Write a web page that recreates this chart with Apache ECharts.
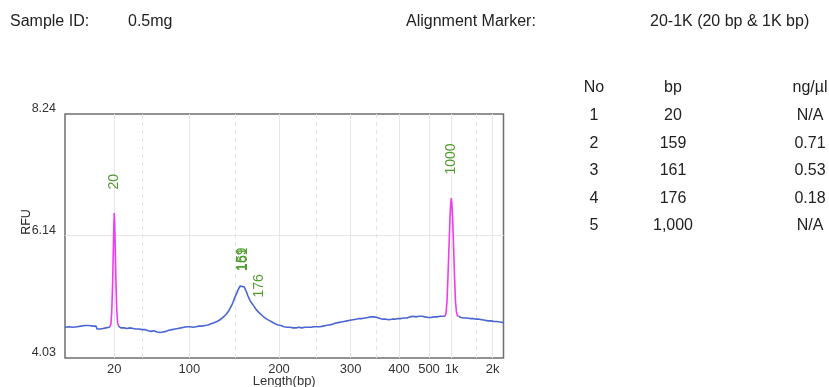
<!DOCTYPE html>
<html><head><meta charset="utf-8">
<script src="https://cdn.jsdelivr.net/npm/echarts@6/dist/echarts.min.js"></script>
<style>html,body{margin:0;padding:0;background:#fff}#c{width:829px;height:387px}</style>
</head><body><div id="c"></div>
<script>
// ---- header ----
const sampleIdLabel = 'Sample ID:';
const sampleId = '0.5mg';
const markerLabel = 'Alignment Marker:';
const alignmentMarker = '20-1K (20 bp & 1K bp)';

// ---- x axis calibration (scan index -> bp) ----
const ladderLabels = ['20', '100', '200', '300', '400', '500', '1k', '2k'];
const ladderScan = [493, 1243, 2140, 2857, 3340, 3640, 3867, 4277];
const minorBp = [50, 150, 250, 350, 1500];
const minorScan = [773, 1707, 2510, 3117, 4110];
const scanMax = 4385;

// ---- y axis ----
const rfuTicks = [4.03, 6.14, 8.24];

// ---- sample trace (blue); '-' = gap where marker peaks are drawn ----
const traceScan = [0,40,80,120,160,200,240,280,310,320,350,380,410,440,450,
  490,
  535,560,590,620,650,680,710,740,770,800,830,860,890,920,950,980,1010,1040,1070,1100,1130,1160,1190,1220,1250,1280,1310,1340,1370,1400,1430,1460,1490,1520,1550,1580,1610,1640,1670,1700,1730,1750,1770,1790,1810,1830,1850,1870,1890,1910,1930,1950,1980,2010,2040,2070,2100,2130,2160,2190,2220,2250,2280,2310,2340,2370,2400,2430,2460,2490,2520,2550,2580,2610,2640,2670,2700,2730,2760,2790,2820,2850,2880,2910,2940,2970,3000,3030,3060,3090,3120,3150,3180,3210,3240,3270,3300,3330,3360,3390,3420,3450,3480,3510,3540,3570,3600,3630,3660,3690,3720,3750,3780,3800,
  3860,
  3935,3960,3990,4020,4050,4080,4110,4140,4170,4200,4230,4260,4290,4320,4350,4385];
const traceRfu = [4.56,4.57,4.56,4.57,4.58,4.59,4.59,4.58,4.58,4.53,4.53,4.54,4.55,4.56,4.57,
  '-',
  4.58,4.55,4.55,4.54,4.55,4.54,4.53,4.53,4.52,4.52,4.50,4.49,4.50,4.48,4.47,4.48,4.49,4.51,4.52,4.53,4.54,4.55,4.56,4.57,4.57,4.56,4.57,4.58,4.58,4.59,4.60,4.62,4.64,4.66,4.69,4.73,4.78,4.85,4.95,5.08,5.20,5.27,5.30,5.26,5.19,5.10,5.02,4.97,4.92,4.87,4.83,4.80,4.75,4.71,4.68,4.65,4.62,4.60,4.59,4.57,4.56,4.56,4.55,4.55,4.56,4.55,4.56,4.56,4.56,4.57,4.57,4.57,4.58,4.59,4.60,4.61,4.63,4.64,4.65,4.66,4.67,4.68,4.69,4.70,4.71,4.71,4.72,4.73,4.74,4.74,4.73,4.71,4.70,4.70,4.69,4.70,4.70,4.71,4.71,4.72,4.72,4.74,4.75,4.74,4.75,4.75,4.74,4.73,4.73,4.74,4.74,4.75,4.75,4.75,
  '-',
  4.75,4.73,4.72,4.72,4.71,4.71,4.70,4.70,4.69,4.68,4.67,4.67,4.66,4.66,4.65,4.64];

// ---- alignment marker peaks (magenta) ----
const marker20Scan = [450,460,468,476,484,489,493,497,502,510,518,526,535];
const marker20Rfu = [4.57,4.63,4.85,5.30,5.95,6.35,6.53,6.35,5.95,5.30,4.85,4.64,4.58];
const marker1kScan = [3800,3810,3820,3830,3840,3850,3857,3863,3869,3876,3885,3895,3905,3915,3925,3935];
const marker1kRfu = [4.75,4.80,5.00,5.45,5.95,6.45,6.70,6.79,6.70,6.45,6.00,5.45,5.00,4.82,4.76,4.75];

// ---- peak table ----
const peakNo = [1, 2, 3, 4, 5];
const peakBp = [20, 159, 161, 176, 1000];
const peakConc = ['N/A', '0.71', '0.53', '0.18', 'N/A'];
const peakScan = [493, 1770, 1780, 1940, 3863];
const peakRfu = [6.53, 5.30, 5.30, 4.84, 6.79];
const markerBp = [20, 1000];

const FONT = '"Liberation Sans", Arial, sans-serif';
const GREEN = '#4f9b2c';

function peakLabelData(isMarker) {
  const out = [];
  peakBp.forEach((bp, i) => {
    if ((markerBp.indexOf(bp) >= 0) === isMarker) {
      out.push({ coord: [peakScan[i], peakRfu[i]], value: bp });
    }
  });
  return out;
}
function peakLabelOpt(isMarker, dist) {
  return {
    silent: true, animation: false,
    symbol: 'circle', symbolSize: 1,
    itemStyle: { color: 'rgba(0,0,0,0)' },
    label: {
      show: true, position: 'top', distance: dist, rotate: 90,
      align: 'left', verticalAlign: 'middle',
      formatter: p => String(p.value), color: GREEN, fontSize: 14, fontFamily: FONT
    },
    data: peakLabelData(isMarker)
  };
}

const gridLines = [];
ladderScan.forEach(s => gridLines.push({ xAxis: s, lineStyle: { type: 'solid', color: '#e6e6e6', width: 1 } }));
minorScan.forEach(s => gridLines.push({ xAxis: s, lineStyle: { type: [4, 4], color: '#e3e3e3', width: 1 } }));
gridLines.push({ yAxis: rfuTicks[1], lineStyle: { type: 'solid', color: '#e6e6e6', width: 1 } });

const graphics = [];
function txt(text, x, y, align, size, extra) {
  graphics.push(Object.assign({
    type: 'text', x: x, y: y, silent: true,
    style: { text: text, font: size + 'px ' + FONT, fill: '#222',
      align: align, textAlign: align, verticalAlign: 'middle', textVerticalAlign: 'middle' }
  }, extra || {}));
}
txt(sampleIdLabel, 10, 22, 'left', 16);
txt(sampleId, 128, 22, 'left', 16);
txt(markerLabel, 406, 22, 'left', 16);
txt(alignmentMarker, 650, 22, 'left', 16);
// table
const colX = [594, 673, 810];
const rowY0 = 88, rowH = 27.6;
txt('No', colX[0], rowY0, 'center', 16);
txt('bp', colX[1], rowY0, 'center', 16);
txt('ng/µl', colX[2], rowY0, 'center', 16);
peakNo.forEach((n, i) => {
  const y = rowY0 + rowH * (i + 1);
  txt(String(n), colX[0], y, 'center', 16);
  txt(peakBp[i].toLocaleString('en-US'), colX[1], y, 'center', 16);
  txt(peakConc[i], colX[2], y, 'center', 16);
});
// RFU axis title
txt('RFU', 27, 222, 'center', 12.5, { rotation: Math.PI / 2 });

const chart = echarts.init(document.getElementById('c'), null, { renderer: 'canvas' });
chart.setOption({
  animation: false,
  backgroundColor: '#fff',
  grid: { left: 65, top: 114, width: 438.5, bottom: 29, outerBoundsMode: 'none', containLabel: false,
    show: true, borderColor: '#6e6e6e', borderWidth: 1.5, backgroundColor: 'transparent' },
  xAxis: {
    type: 'value', min: 0, max: scanMax,
    axisLine: { show: false }, axisTick: { show: false }, splitLine: { show: false },
    axisLabel: {
      customValues: ladderScan, margin: 5, color: '#333', fontSize: 13, fontFamily: FONT,
      formatter: v => ladderLabels[ladderScan.indexOf(v)]
    },
    name: 'Length(bp)', nameLocation: 'middle', nameGap: 23, nameMoveOverlap: false,
    nameTextStyle: { color: '#333', fontSize: 13, fontFamily: FONT, verticalAlign: 'middle' }
  },
  yAxis: {
    type: 'value', min: rfuTicks[0], max: rfuTicks[2],
    axisLine: { show: false }, axisTick: { show: false }, splitLine: { show: false },
    axisLabel: {
      customValues: rfuTicks, margin: 9, color: '#333', fontSize: 12.5, fontFamily: FONT,
      formatter: v => v.toFixed(2), verticalAlign: 'bottom', lineHeight: 10
    }
  },
  graphic: graphics,
  series: [
    {
      type: 'line', data: [], z: 1, silent: true,
      markLine: { z: 1, silent: true, animation: false, symbol: ['none', 'none'], label: { show: false }, data: gridLines }
    },
    {
      type: 'line', z: 3, showSymbol: false, connectNulls: false,
      data: traceScan.map((s, i) => [s, traceRfu[i]]),
      lineStyle: { color: '#4a66d4', width: 1.6 },
      markPoint: peakLabelOpt(false, 13)
    },
    {
      type: 'line', z: 4, showSymbol: false, connectNulls: false,
      data: marker20Scan.map((s, i) => [s, marker20Rfu[i]])
        .concat([[ (marker20Scan[marker20Scan.length - 1] + marker1kScan[0]) / 2, '-' ]])
        .concat(marker1kScan.map((s, i) => [s, marker1kRfu[i]])),
      lineStyle: { color: '#ee3cee', width: 1.6 },
      markPoint: peakLabelOpt(true, 23)
    }
  ]
});
</script></body></html>
